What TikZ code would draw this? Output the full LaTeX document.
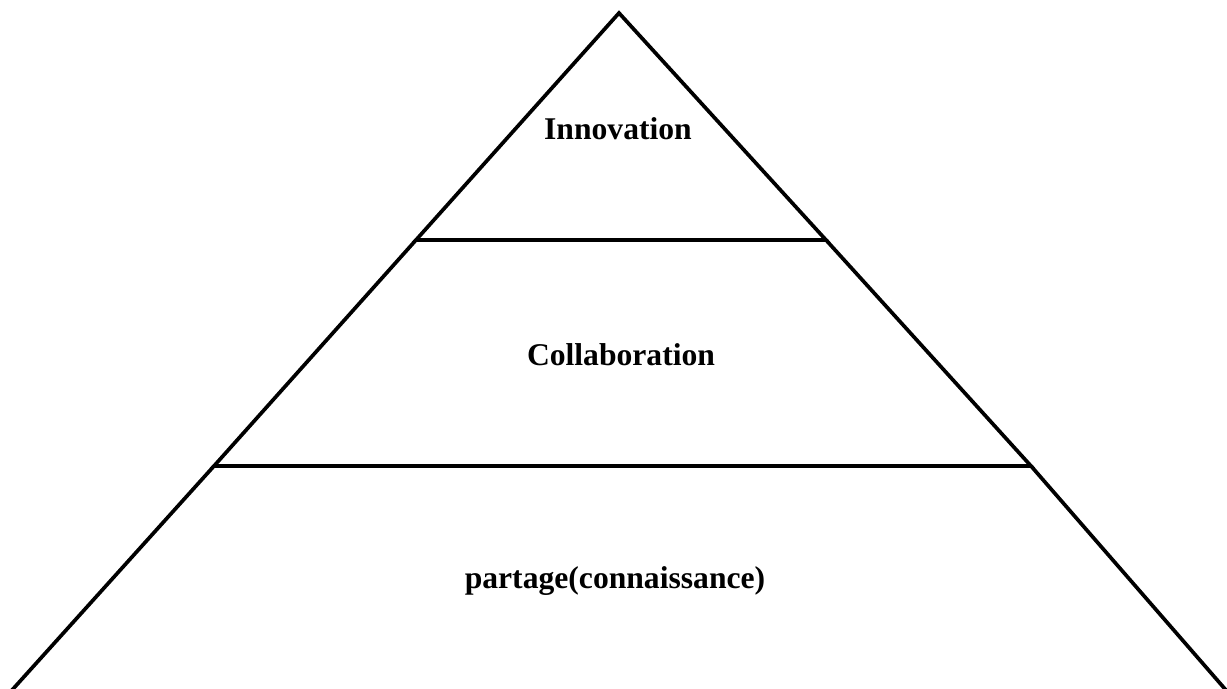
\documentclass[tikz,border=0pt]{standalone}
\usepackage{fontspec}
\setmainfont{Liberation Serif}
\usetikzlibrary{calc}
\begin{document}
\begin{tikzpicture}[x=0.02cm,y=-0.02cm,line width=2.1pt,
	level/.style={font=\fontsize{18}{21}\selectfont\bfseries,anchor=base}]
		\useasboundingbox (0,0) rectangle (1227,689);
		\clip (0,0) rectangle (1227,689);
		\coordinate (apex) at (619,13);
		\coordinate (l1) at (416,240);
		\coordinate (r1) at (826,240);
		\coordinate (l2) at (214,466);
		\coordinate (r2) at (1031,466);
		\coordinate (l3) at (13,689);
		\coordinate (r3) at (1225,689);
		\draw (l1) -- (apex) -- (r1) -- cycle;
		\draw (l1) -- (l2) -- (r2) -- (r1);
		\draw (l2) -- ($(l2)!1.05!(l3)$);
		\draw (r2) -- ($(r2)!1.05!(r3)$);
		\node[level] (inno) at (618,140) {Innovation};
		\node[level] (colla) at (621,365) {Collaboration};
		\node[level] (part) at (615,588) {partage(connaissance)};
	\end{tikzpicture}
\end{document}
